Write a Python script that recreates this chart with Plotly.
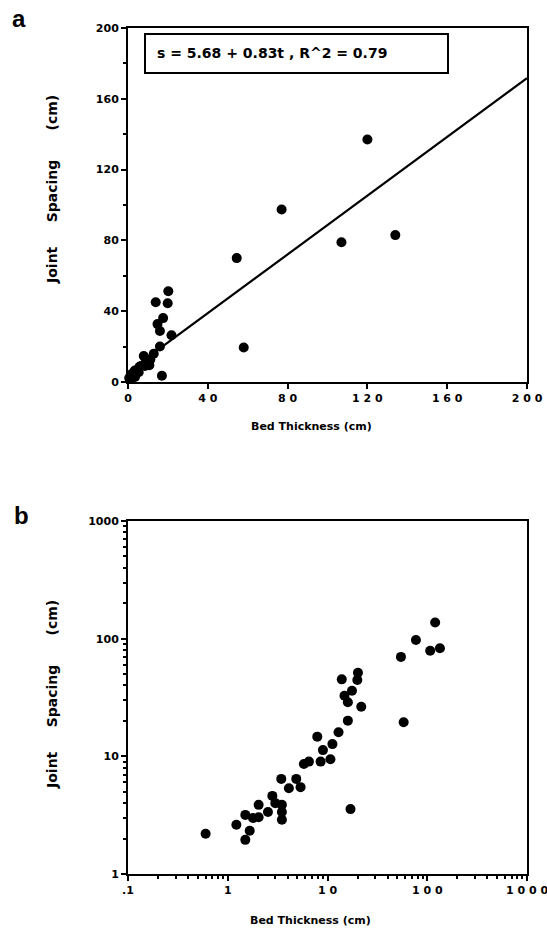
import plotly.graph_objects as go

# ---- data (bed thickness t, joint spacing s), cm ----
bed_thickness = [0.6, 1.22, 1.5, 1.66, 1.5, 1.79, 2.04, 2.04, 2.53, 2.8, 3.0, 3.49, 3.49, 3.49,
                 3.44, 4.1, 4.86, 5.37, 5.8, 6.51, 7.9, 8.53, 9.0, 10.7, 11.2, 12.9, 16.0, 21.8,
                 16.0, 14.8, 17.6, 13.9, 19.9, 20.2, 17.0, 58.0, 54.5, 77.0, 107.0, 134.0, 120.0]
joint_spacing = [2.2, 2.62, 1.95, 2.33, 3.18, 2.99, 3.04, 3.87, 3.36, 4.61, 4.0, 3.87, 3.36, 2.89,
                 6.43, 5.36, 6.43, 5.47, 8.62, 9.02, 14.7, 9.02, 11.3, 9.45, 12.7, 16.0, 20.1, 26.4,
                 28.8, 32.7, 36.1, 45.1, 44.5, 51.3, 3.56, 19.5, 70.0, 97.5, 79.0, 83.0, 137.0]
fit_intercept = 5.68
fit_slope = 0.83
fit_r2 = 0.79
fit_t = [0, 200]

lin_ticks = [0, 40, 80, 120, 160, 200]
lin_x_text = ["0", "4 0", "8 0", "1 2 0", "1 6 0", "2 0 0"]
lin_y_text = ["0", "40", "80", "120", "160", "200"]
log_x_ticks = [0.1, 1, 10, 100, 1000]
log_x_text = [".1", "1", "1 0", "1 0 0", "1 0 0 0"]
log_y_ticks = [1, 10, 100, 1000]
log_y_text = ["1", "10", "100", "1000"]

W, H = 547, 932
FONT = "DejaVu Sans, Verdana, sans-serif"
FONT2 = "Liberation Sans, Arial, sans-serif"
NB = "&nbsp;"

def px(x):
    return x / W

def py(y):
    return 1 - y / H

fig = go.Figure()

fit_s = [fit_intercept + fit_slope * t for t in fit_t]
fig.add_trace(go.Scatter(x=fit_t, y=fit_s, mode="lines", line=dict(color="black", width=2.2),
                         xaxis="x", yaxis="y", showlegend=False, hoverinfo="skip"))
fig.add_trace(go.Scatter(x=bed_thickness, y=joint_spacing, mode="markers",
                         marker=dict(color="black", size=10), cliponaxis=False,
                         xaxis="x", yaxis="y", showlegend=False))
fig.add_trace(go.Scatter(x=bed_thickness, y=joint_spacing, mode="markers",
                         marker=dict(color="black", size=10), cliponaxis=False,
                         xaxis="x2", yaxis="y2", showlegend=False))

tickfont = dict(family=FONT, size=11, color="black", weight="bold")
axis_common = dict(showline=True, linecolor="black", linewidth=2, mirror=True, ticks="outside",
                   ticklen=5, tickwidth=1.5, tickcolor="black", showgrid=False, zeroline=False,
                   tickfont=tickfont, tickmode="array", automargin=False,
                   ticklabeloverflow="allow")

minor_log = []
for d in [-1, 0, 1, 2]:
    for k in range(2, 10):
        minor_log.append(k * 10 ** d)

fig.update_layout(
    width=W, height=H, margin=dict(l=0, r=0, t=0, b=0, pad=0, autoexpand=False),
    paper_bgcolor="white", plot_bgcolor="white",
    xaxis=dict(domain=[px(128), px(527)], anchor="y", range=[0, 200], tickvals=lin_ticks,
               ticktext=lin_x_text, **axis_common),
    yaxis=dict(domain=[py(382), py(28)], anchor="x", range=[0, 200], tickvals=lin_ticks,
               ticktext=lin_y_text,
               minor=dict(tickvals=[20, 60, 100, 140, 180], ticks="outside", ticklen=3,
                          tickcolor="black", showgrid=False),
               **axis_common),
    xaxis2=dict(domain=[px(128), px(527)], anchor="y2", type="log", range=[-1, 3],
                tickvals=log_x_ticks, ticktext=log_x_text,
                minor=dict(tickvals=minor_log, ticks="outside", ticklen=3, tickcolor="black",
                           showgrid=False),
                **axis_common),
    yaxis2=dict(domain=[py(874), py(521)], anchor="x2", type="log", range=[0, 3],
                tickvals=log_y_ticks, ticktext=log_y_text,
                minor=dict(tickvals=[m for m in minor_log if m > 1], ticks="outside", ticklen=3,
                           tickcolor="black", showgrid=False),
                **axis_common),
)

# equation box
fig.add_shape(type="rect", xref="paper", yref="paper", x0=px(145), x1=px(448), y0=py(73), y1=py(34),
              line=dict(color="black", width=2), fillcolor="white", layer="above")
fig.add_annotation(xref="paper", yref="paper", x=px(155), y=py(53), xanchor="left", yanchor="middle",
                   text=f"s = {fit_intercept} + {fit_slope}t , R^2 = {fit_r2}", showarrow=False,
                   font=dict(family=FONT, size=14, color="black", weight="bold"))

ylab = "Joint" + NB * 5 + "Spacing" + NB * 6 + "(cm)"
ylabfont = dict(family=FONT, size=14, color="black", weight="bold")
xlabfont = dict(family=FONT, size=11, color="black", weight="bold")
fig.add_annotation(xref="paper", yref="paper", x=px(52), y=py(190), text=ylab, textangle=-90,
                   xanchor="center", yanchor="middle", showarrow=False, font=ylabfont)
fig.add_annotation(xref="paper", yref="paper", x=px(52), y=py(695), text=ylab, textangle=-90,
                   xanchor="center", yanchor="middle", showarrow=False, font=ylabfont)
fig.add_annotation(xref="paper", yref="paper", x=px(311), y=py(426), text="Bed Thickness (cm)",
                   xanchor="center", yanchor="middle", showarrow=False, font=xlabfont)
fig.add_annotation(xref="paper", yref="paper", x=px(310), y=py(920), text="Bed Thickness (cm)",
                   xanchor="center", yanchor="middle", showarrow=False, font=xlabfont)

panfont = dict(family=FONT2, size=24, color="black", weight="bold")
fig.add_annotation(xref="paper", yref="paper", x=px(19), y=py(18), text="a", xanchor="center",
                   yanchor="middle", showarrow=False, font=panfont)
fig.add_annotation(xref="paper", yref="paper", x=px(21), y=py(515), text="b", xanchor="center",
                   yanchor="middle", showarrow=False, font=panfont)

fig.write_html("out.html", config={"responsive": False, "displayModeBar": False},
               post_script="document.body.style.margin='0';document.body.style.overflow='hidden';")
